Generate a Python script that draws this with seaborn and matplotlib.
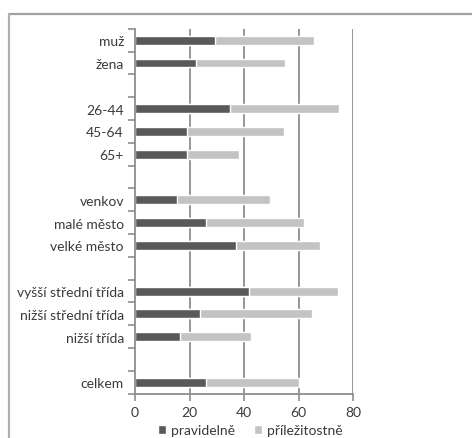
import pandas as pd
import matplotlib.pyplot as plt
import seaborn as sns
from matplotlib.patches import Patch
from matplotlib.lines import Line2D

# Categories (blank strings are the gaps between groups)
categories = ['muž', 'žena', ' ',
              '26-44', '45-64', '65+', '  ',
              'venkov', 'malé město', 'velké město', '   ',
              'vyšší střední třída', 'nižší střední třída', 'nižší třída', '    ',
              'celkem']
pravidelne = [29.5, 22.5, None, 35, 19, 19, None, 15.5, 26, 37, None, 42, 24, 16.5, None, 26]
prilezitostne = [36, 32.5, None, 40, 35.5, 19, None, 34, 36, 31, None, 32.5, 41, 26, None, 34]
x_ticks = [0, 20, 40, 60, 80]

dark = '#595959'
light = '#c3c3c3'
grid_col = '#8e8e8e'

sns.set_theme(style='white')
plt.rcParams['font.family'] = ['Lato', 'DejaVu Sans']

df = pd.DataFrame({'kategorie': categories,
                   'pravidelne': pravidelne,
                   'prilezitostne': prilezitostne})
df['celkem'] = df['pravidelne'] + df['prilezitostne']

fig = plt.figure(figsize=(4.72, 4.39), dpi=100)
ax = fig.add_axes([0.286, 0.101, 0.462, 0.831])

# stacked bars: total in light, regular part in dark on top
sns.barplot(data=df, x='celkem', y='kategorie', order=categories, color=light,
            width=0.39, saturation=1, ax=ax, orient='h')
sns.barplot(data=df, x='pravidelne', y='kategorie', order=categories, color=dark,
            width=0.39, saturation=1, ax=ax, orient='h')

ax.set_xlim(0, 80)
ax.set_ylim(len(categories) - 0.5, -0.5)
ax.set_xticks(x_ticks)
ax.set_xlabel('')
ax.set_ylabel('')

# vertical gridlines
for v in x_ticks[1:]:
    ax.axvline(v, color=grid_col, lw=1.3, zorder=0)

for s in ['top', 'right']:
    ax.spines[s].set_visible(False)
for s in ['left', 'bottom']:
    ax.spines[s].set_color(grid_col)
    ax.spines[s].set_linewidth(1.3)

# Excel-style tick marks between categories
ax.set_yticks([i - 0.5 for i in range(len(categories) + 1)], minor=True)
ax.tick_params(axis='y', which='major', length=0, pad=8, labelsize=10, colors='#3a3a3a')
ax.tick_params(axis='y', which='minor', length=5, width=1.2, color=grid_col, left=True)
ax.tick_params(axis='x', which='major', length=5, width=1.2, color=grid_col, bottom=True,
               labelsize=10, labelcolor='#3a3a3a', pad=4)

handles = [Patch(facecolor=dark, label='pravidelně'),
           Patch(facecolor=light, label='příležitostně')]
fig.legend(handles=handles, loc='center', bbox_to_anchor=(0.53, 0.018), ncol=2,
           frameon=False, fontsize=10, handlelength=0.6, handleheight=0.6,
           handletextpad=0.3, columnspacing=1.4, labelcolor='#3a3a3a')

# outer frame (top and left edges visible)
fig.add_artist(Line2D([0.019, 1.0], [0.966, 0.966], color='#a0a0a0', lw=1.6,
                      transform=fig.transFigure))
fig.add_artist(Line2D([0.020, 0.020], [0.0, 0.966], color='#b0b0b0', lw=1.6,
                      transform=fig.transFigure))

fig.savefig('out.png', dpi=100)
